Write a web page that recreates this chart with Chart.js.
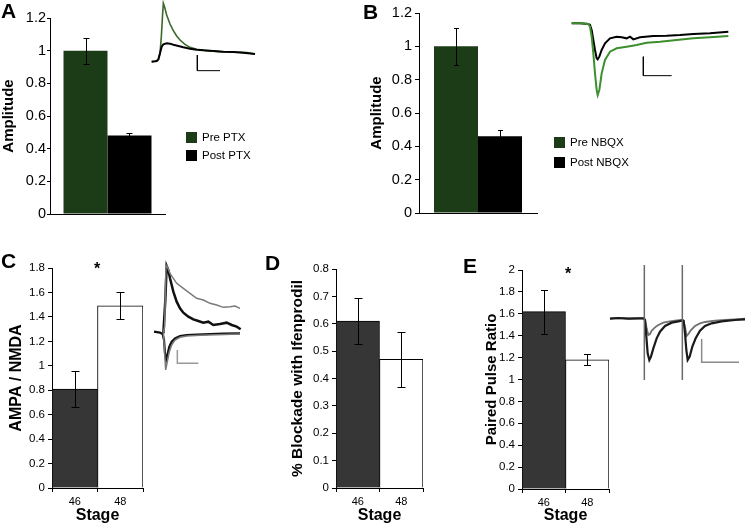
<!DOCTYPE html>
<html><head><meta charset="utf-8">
<script src="https://cdn.jsdelivr.net/npm/chart.js@4"></script>
<style>
html,body{margin:0;padding:0;background:#fff;}
body{width:747px;height:525px;position:relative;overflow:hidden;font-family:"Liberation Sans",Arial,sans-serif;color:#000;}
canvas{position:absolute;}
.lbl{position:absolute;font-weight:bold;font-size:21px;line-height:1;}
.leg{position:absolute;font-size:11.5px;line-height:12px;display:flex;align-items:center;white-space:nowrap;}
.sw{width:11px;height:11px;margin-right:5px;flex:none;}
.star{position:absolute;font-weight:bold;font-size:16px;line-height:1;width:20px;text-align:center;}
</style></head>
<body>
<canvas id="cA" width="175" height="225" style="left:0;top:0"></canvas>
<canvas id="cB" width="190" height="225" style="left:360px;top:0"></canvas>
<canvas id="cC" width="160" height="285" style="left:0;top:240px"></canvas>
<canvas id="cD" width="160" height="285" style="left:280px;top:240px"></canvas>
<canvas id="cE" width="150" height="285" style="left:470px;top:240px"></canvas>
<canvas id="tA" width="130" height="80" style="left:140px;top:0"></canvas>
<canvas id="tB" width="187" height="100" style="left:560px;top:10px"></canvas>
<canvas id="tC" width="100" height="110" style="left:150px;top:260px"></canvas>
<canvas id="tE" width="142" height="120" style="left:605px;top:260px"></canvas>
<div class="lbl" style="left:1px;top:0">A</div>
<div class="lbl" style="left:363px;top:1px">B</div>
<div class="lbl" style="left:1px;top:250px">C</div>
<div class="lbl" style="left:265px;top:252px">D</div>
<div class="lbl" style="left:463px;top:255px">E</div>
<div class="star" style="left:87px;top:261px">*</div>
<div class="star" style="left:558px;top:266px">*</div>
<div id="legA"></div>
<div id="legB"></div>
<script>
// ---------- bar data ----------
const aSeries = ['Pre PTX', 'Post PTX'];
const aValues = [1.00, 0.48];
const aErrors = [0.08, 0.018];
const aTicks = [0, 0.2, 0.4, 0.6, 0.8, 1, 1.2];
const aTickLabels = ['0', '0.2', '0.4', '0.6', '0.8', '1', '1.2'];

const bSeries = ['Pre NBQX', 'Post NBQX'];
const bValues = [1.00, 0.46];
const bErrors = [0.11, 0.04];
const bTicks = [0, 0.2, 0.4, 0.6, 0.8, 1, 1.2];
const bTickLabels = ['0', '0.2', '0.4', '0.6', '0.8', '1', '1.2'];

const stages = ['46', '48'];
const cValues = [0.81, 1.49];
const cErrors = [0.15, 0.11];
const cTicks = [0, 0.2, 0.4, 0.6, 0.8, 1, 1.2, 1.4, 1.6, 1.8];
const cTickLabels = ['0', '0.2', '0.4', '0.6', '0.8', '1', '1.2', '1.4', '1.6', '1.8'];

const dValues = [0.61, 0.47];
const dErrors = [0.085, 0.10];
const dTicks = [0, 0.1, 0.2, 0.3, 0.4, 0.5, 0.6, 0.7, 0.8];
const dTickLabels = ['0', '0.1', '0.2', '0.3', '0.4', '0.5', '0.6', '0.7', '0.8'];

const eValues = [1.62, 1.18];
const eErrors = [0.20, 0.05];
const eTicks = [0, 0.2, 0.4, 0.6, 0.8, 1, 1.2, 1.4, 1.6, 1.8, 2];
const eTickLabels = ['0', '0.2', '0.4', '0.6', '0.8', '1', '1.2', '1.4', '1.6', '1.8', '2'];

// ---------- inset trace data (arbitrary time / amplitude units) ----------
const trA_black_t = [35,45,50,55,60,65,70,80,90,100,115,130,150,170,190,220,250,280,310,345];
const trA_black_v = [0,1,2,7,25,45,52,55,54,51,47,43,39,36,34,32,30,29,27,23];
const trA_green_t = [35,45,52,56,60,64,68,70,74,80,90,100,110,120,135,150,170,200,240,280,320,345];
const trA_green_v = [0,1,3,7,25,75,145,175,163,140,113,93,77,65,52,43,37,33,30,29,27,23];
const trA_scale_t = [172,172,240];
const trA_scale_v = [20,-27,-27];

const trB_black_t = [35,60,85,90,95,100,105,110,113,118,125,135,150,170,185,200,210,220,240,280,320,360,400,450,505];
const trB_black_v = [0,0,-2,-5,-20,-50,-80,-105,-108,-100,-80,-60,-45,-40,-42,-45,-40,-48,-42,-38,-37,-35,-32,-30,-25];
const trB_green_t = [35,60,85,90,95,100,105,110,113,118,125,135,150,170,200,230,260,300,350,400,450,505];
const trB_green_v = [0,0,-2,-10,-40,-90,-150,-200,-215,-200,-150,-110,-85,-75,-70,-65,-58,-55,-50,-45,-42,-38];
const trB_scale_t = [250,250,335];
const trB_scale_v = [-100,-157,-157];

const trC_grayUp_t = [40,44,46,48,52,60,80,100,120,140,160,180,200,220,240,255,270];
const trC_grayUp_v = [-3,15,115,200,195,175,145,130,115,100,95,85,80,73,75,77,70];
const trC_blackUp_t = [40,46,50,55,60,70,80,90,100,115,130,145,160,175,190,210,230,245,260,272];
const trC_blackUp_v = [-5,95,197,185,160,120,90,70,57,45,37,32,27,30,20,23,27,20,15,7];
const trC_blackLo_t = [12,30,38,42,45,48,52,58,65,75,90,110,140,180,220,270];
const trC_blackLo_v = [0,-3,-7,-25,-65,-85,-70,-45,-30,-20,-13,-10,-9,-7,-6,-5];
const trC_grayLo_t = [40,44,47,52,58,65,75,90,110,150,200,270];
const trC_grayLo_v = [-3,-65,-115,-90,-60,-40,-25,-17,-13,-11,-9,-7];
const trC_scale_t = [82,82,145];
const trC_scale_v = [-55,-95,-95];

const trE_gray_t = [15,40,70,100,115,120,125,130,135,140,150,160,175,190,210,228,234,240,245,250,258,270,285,300,330,360,390,420];
const trE_gray_v = [-1,1,-1,0,0,-3,-30,-50,-47,-37,-27,-20,-13,-10,-7,-5,-5,-25,-53,-47,-35,-23,-15,-11,-7,-5,-3,-1];
const trE_black_t = [15,40,70,100,115,120,124,128,133,138,145,155,165,180,200,220,230,236,240,244,248,254,262,272,285,300,320,350,390,420];
const trE_black_v = [-1,1,-1,0,0,-5,-55,-105,-125,-115,-90,-60,-40,-23,-13,-9,-7,-8,-45,-95,-125,-115,-85,-60,-37,-23,-15,-9,-5,-3];
const trE_art1_t = [118,118];
const trE_art1_v = [160,-185];
const trE_art2_t = [232,232];
const trE_art2_v = [160,-185];
const trE_scale_t = [290,290,402];
const trE_scale_v = [-62,-132,-132];

// ---------- styles ----------
const FONT = '"Liberation Sans", Arial, sans-serif';
const GREEN = '#1c3c17';
const DARK = '#363636';

const errorBarPlugin = {
  id: 'errorBars',
  afterDatasetsDraw(chart) {
    const ctx = chart.ctx, ys = chart.scales.y;
    const cap = chart.options.plugins.errorBars.cap;
    chart.data.datasets.forEach((ds, di) => {
      if (!ds.errors) return;
      chart.getDatasetMeta(di).data.forEach((bar, i) => {
        const v = ds.data[i], e = ds.errors[i];
        const t = Math.round(ys.getPixelForValue(v + e)) + 0.5;
        const b = Math.round(ys.getPixelForValue(v - e)) + 0.5;
        const x = Math.round(bar.x) + 0.5;
        ctx.save();
        ctx.strokeStyle = '#000'; ctx.lineWidth = 1;
        ctx.beginPath();
        ctx.moveTo(x, t); ctx.lineTo(x, b);
        ctx.moveTo(x - cap, t); ctx.lineTo(x + cap, t);
        ctx.moveTo(x - cap, b); ctx.lineTo(x + cap, b);
        ctx.stroke();
        ctx.restore();
      });
    });
  }
};

function barChart(id, o) {
  return new Chart(document.getElementById(id), {
    type: 'bar',
    data: { labels: o.labels, datasets: o.datasets },
    options: {
      responsive: false, animation: false,
      layout: { padding: o.padding },
      datasets: { bar: { categoryPercentage: o.catPct, barPercentage: 1 } },
      plugins: { legend: { display: false }, tooltip: { enabled: false }, errorBars: { cap: o.cap } },
      scales: {
        x: {
          ticks: { display: o.xTicks, color: '#000', padding: 3, font: { family: FONT, size: 11 } },
          grid: { display: o.xTicks, drawOnChartArea: false, tickLength: 4, color: '#000' },
          border: { display: true, color: '#000', width: 1 },
          title: o.xTitle ? { display: true, text: o.xTitle, color: '#000', padding: { top: 0, bottom: 0 }, font: { family: FONT, size: 16, weight: 'bold' } } : { display: false },
          afterFit: s => { s.height = o.xHeight; }
        },
        y: {
          min: o.ticks[0], max: o.ticks[o.ticks.length - 1],
          afterBuildTicks: s => { s.ticks = o.ticks.map(v => ({ value: v })); },
          ticks: { color: '#000', padding: o.tickPad, font: { family: FONT, size: o.tickSize }, callback: (v, i) => o.tickLabels[i] },
          grid: { drawOnChartArea: false, tickLength: o.tickLen, color: '#000' },
          border: { display: true, color: '#000', width: 1 },
          title: { display: true, text: o.yTitle, color: '#000', padding: { top: o.titlePad, bottom: 0 }, font: { family: FONT, size: o.yTitleSize, weight: 'bold' } },
          afterFit: s => { s.width = o.yWidth; }
        }
      }
    },
    plugins: [errorBarPlugin]
  });
}

const chA = barChart('cA', {
  labels: [''],
  datasets: [
    { label: aSeries[0], data: [aValues[0]], errors: [aErrors[0]], backgroundColor: GREEN },
    { label: aSeries[1], data: [aValues[1]], errors: [aErrors[1]], backgroundColor: '#000' }
  ],
  padding: { left: 0, top: 18, right: 10, bottom: 0 }, catPct: 0.765, cap: 3,
  xTicks: false, xHeight: 11, ticks: aTicks, tickLabels: aTickLabels, tickSize: 14.5, tickPad: 1, tickLen: 3,
  yTitle: 'Amplitude', yTitleSize: 15, titlePad: 0, yWidth: 50
});
const chB = barChart('cB', {
  labels: [''],
  datasets: [
    { label: bSeries[0], data: [bValues[0]], errors: [bErrors[0]], backgroundColor: GREEN },
    { label: bSeries[1], data: [bValues[1]], errors: [bErrors[1]], backgroundColor: '#000' }
  ],
  padding: { left: 0, top: 13, right: 13, bottom: 0 }, catPct: 0.746, cap: 2.5,
  xTicks: false, xHeight: 12, ticks: bTicks, tickLabels: bTickLabels, tickSize: 14.5, tickPad: 3, tickLen: 4,
  yTitle: 'Amplitude', yTitleSize: 15, titlePad: 7.5, yWidth: 59
});
const chC = barChart('cC', {
  labels: stages,
  datasets: [{ label: 'AMPA / NMDA', data: cValues, errors: cErrors, backgroundColor: [DARK, '#fff'], borderColor: '#000', borderWidth: 1 }],
  padding: { left: 0, top: 28, right: 17, bottom: 0 }, catPct: 1, cap: 4,
  xTicks: true, xTitle: 'Stage', xHeight: 37, ticks: cTicks, tickLabels: cTickLabels, tickSize: 11.5, tickPad: 3, tickLen: 4,
  yTitle: 'AMPA / NMDA', yTitleSize: 16, titlePad: 7.4, yWidth: 52
});
const chD = barChart('cD', {
  labels: stages,
  datasets: [{ label: '% Blockade with Ifenprodil', data: dValues, errors: dErrors, backgroundColor: [DARK, '#fff'], borderColor: '#000', borderWidth: 1 }],
  padding: { left: 0, top: 29, right: 17, bottom: 0 }, catPct: 1, cap: 4,
  xTicks: true, xTitle: 'Stage', xHeight: 37, ticks: dTicks, tickLabels: dTickLabels, tickSize: 11.5, tickPad: 3, tickLen: 4,
  yTitle: '% Blockade with Ifenprodil', yTitleSize: 15.5, titlePad: 8.7, yWidth: 56
});
const chE = barChart('cE', {
  labels: stages,
  datasets: [{ label: 'Paired Pulse Ratio', data: eValues, errors: eErrors, backgroundColor: [DARK, '#fff'], borderColor: '#000', borderWidth: 1 }],
  padding: { left: 0, top: 30, right: 11, bottom: 0 }, catPct: 1, cap: 3.5,
  xTicks: true, xTitle: 'Stage', xHeight: 36, ticks: eTicks, tickLabels: eTickLabels, tickSize: 11.5, tickPad: 3, tickLen: 4,
  yTitle: 'Paired Pulse Ratio', yTitleSize: 15, titlePad: 13, yWidth: 52
});

// HTML legends built from the chart datasets
function legend(elId, chart, x, ys) {
  const el = document.getElementById(elId);
  chart.data.datasets.forEach((ds, i) => {
    const row = document.createElement('div');
    row.className = 'leg';
    row.style.left = x + 'px'; row.style.top = ys[i] + 'px';
    row.innerHTML = '<span class="sw" style="background:' + ds.backgroundColor + '"></span><span>' + ds.label + '</span>';
    el.appendChild(row);
  });
}
legend('legA', chA, 186, [131, 149]);
legend('legB', chB, 554, [136, 156]);

// inset traces
function pts(t, v) { return t.map((x, i) => ({ x: x, y: v[i] })); }
function traceChart(id, xr, yr, traces) {
  return new Chart(document.getElementById(id), {
    type: 'line',
    data: { datasets: traces.map(tr => ({ data: pts(tr.t, tr.v), borderColor: tr.c, borderWidth: tr.w, pointRadius: 0, fill: false, tension: 0, clip: false })) },
    options: {
      responsive: false, animation: false, layout: { padding: 0 },
      plugins: { legend: { display: false }, tooltip: { enabled: false } },
      scales: { x: { type: 'linear', min: xr[0], max: xr[1], display: false }, y: { type: 'linear', min: yr[0], max: yr[1], display: false } }
    }
  });
}
traceChart('tA', [0, 390], [-55, 185], [
  { t: trA_black_t, v: trA_black_v, c: '#000', w: 2 },
  { t: trA_green_t, v: trA_green_v, c: '#3a6a2a', w: 1.6 },
  { t: trA_scale_t, v: trA_scale_v, c: '#000', w: 1 }
]);
traceChart('tB', [0, 561], [-260, 40], [
  { t: trB_green_t, v: trB_green_v, c: '#3d8f2e', w: 2 },
  { t: trB_black_t, v: trB_black_v, c: '#000', w: 2 },
  { t: trB_scale_t, v: trB_scale_v, c: '#000', w: 1 }
]);
traceChart('tC', [0, 300], [-115, 215], [
  { t: trC_grayUp_t, v: trC_grayUp_v, c: '#7a7a7a', w: 1.5 },
  { t: trC_grayLo_t, v: trC_grayLo_v, c: '#7a7a7a', w: 1.5 },
  { t: trC_blackLo_t, v: trC_blackLo_v, c: '#111', w: 2.2 },
  { t: trC_blackUp_t, v: trC_blackUp_v, c: '#111', w: 2.5 },
  { t: trC_scale_t, v: trC_scale_v, c: '#9a9a9a', w: 1.5 }
]);
traceChart('tE', [0, 426], [-185, 175], [
  { t: trE_art1_t, v: trE_art1_v, c: '#6a6a6a', w: 1.5 },
  { t: trE_art2_t, v: trE_art2_v, c: '#6a6a6a', w: 1.5 },
  { t: trE_black_t, v: trE_black_v, c: '#1a1a1a', w: 2.2 },
  { t: trE_gray_t, v: trE_gray_v, c: '#707070', w: 1.8 },
  { t: trE_scale_t, v: trE_scale_v, c: '#8a8a8a', w: 1.5 }
]);
</script>
</body></html>
